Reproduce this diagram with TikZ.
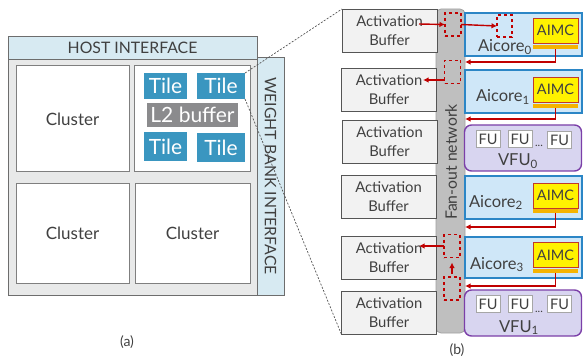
\documentclass[tikz,border=0pt]{standalone}
\usepackage{fontspec}
\setmainfont{Lato}
\usepackage{xcolor}
\usetikzlibrary{positioning,arrows.meta}

\definecolor{txtgray}{HTML}{404040}
\definecolor{chipfill}{HTML}{E8E9E9}
\definecolor{chipline}{HTML}{6D6D6D}
\definecolor{ifacefill}{HTML}{D7EAF2}
\definecolor{clusterline}{HTML}{7F7F7F}
\definecolor{tileblue}{HTML}{3A96C0}
\definecolor{l2gray}{HTML}{8B8B8D}
\definecolor{buffill}{HTML}{F2F2F2}
\definecolor{bufline}{HTML}{555555}
\definecolor{fanfill}{HTML}{BFBFBF}
\definecolor{fanline}{HTML}{A0A0A0}
\definecolor{corefill}{HTML}{CFE7F8}
\definecolor{coreline}{HTML}{2B86C6}
\definecolor{aimcline}{HTML}{C0392B}
\definecolor{barorange}{HTML}{F5B300}
\definecolor{vfufill}{HTML}{D8D5F0}
\definecolor{vfuline}{HTML}{7B3FA8}
\definecolor{fuline}{HTML}{A6A6A6}
\definecolor{flowred}{HTML}{C00000}

\newcommand\fsz[2]{\fontsize{#1}{#2}\selectfont}

\begin{document}
\begin{tikzpicture}[x=1pt, y=-1pt,
  every node/.style={inner sep=0pt, outer sep=0pt, text=txtgray},
  sz/.style 2 args={minimum width=#1pt, minimum height=#2pt},
  chipN/.style={draw=chipline, fill=chipfill, line width=0.8pt},
  ifaceN/.style={draw=chipline, fill=ifacefill, line width=0.8pt, font=\fsz{15.8}{18}},
  clusterN/.style={draw=clusterline, fill=white, line width=1pt, font=\fsz{17}{20}},
  tileN/.style={fill=tileblue, text=white, font=\fsz{21}{23}},
  l2N/.style={fill=l2gray, text=white, font=\fsz{21}{23}},
  bufN/.style={draw=bufline, fill=buffill, line width=0.8pt, sz={95}{43},
               align=center, font=\fsz{14.8}{19}},
  fanN/.style={draw=fanline, fill=fanfill, line width=0.8pt, rounded corners=5pt},
  coreN/.style={draw=coreline, fill=corefill, line width=1.6pt, sz={117}{43}},
  coreT/.style={anchor=base west, font=\fsz{16.5}{18}},
  aimcN/.style={draw=aimcline, fill=yellow, line width=0.8pt, sz={45}{25},
                font=\fsz{14.5}{16}},
  barN/.style={fill=barorange, sz={45}{4}},
  vfuN/.style={draw=vfuline, fill=vfufill, line width=1.4pt, rounded corners=7pt,
               sz={117}{46}},
  fuN/.style={draw=fuline, fill=white, line width=1pt, sz={24}{17}, font=\fsz{14.5}{16}},
  dashN/.style={draw=flowred, dashed, line width=1.2pt, sz={16}{23}},
  flow/.style={draw=flowred, line width=1.4pt, -{Latex[length=5.5pt,width=5.5pt]}},
  zoomline/.style={draw=bufline, line width=0.7pt, dash pattern=on 2pt off 1.5pt}
]
\useasboundingbox (0,0) rectangle (583,358);

% (a) chip
\node[chipN, sz={249}{259}] (chip) at (132.5,165.5) {};
\node[ifaceN, sz={249}{23}] (host) at (132.5,47.5) {HOST INTERFACE};
\node[ifaceN, sz={238}{27}, rotate=-90] (wbi) at (270.5,176) {WEIGHT BANK INTERFACE};
% Clusters
\node[clusterN, sz={113}{106}] (c1) at (72.5,119) {Cluster};
\node[clusterN, sz={116}{106}] (c2) at (192,119) {};
\node[clusterN, sz={113}{99}] (c3) at (72.5,233.5) {Cluster};
\node[clusterN, sz={115}{99}] (c4) at (192.5,233.5) {Cluster};
% Tiles inside one cluster
\node[tileN, sz={43}{26}] (t1) at (165.5,86) {Tile};
\node[tileN, sz={48}{26}] (t2) at (221,86) {Tile};
\node[l2N, sz={91}{24}] (l2) at (192.5,115) {L2 buffer};
\node[tileN, sz={43}{29}] (t3) at (165.5,146.5) {Tile};
\node[tileN, sz={48}{29}] (t4) at (221,147.5) {Tile};
\node[font=\fsz{14}{16}] (capa) at (127,342) {(a)};

% (b) tile
\node[fanN, sz={324}{29}, rotate=90] (fan) at (450.5,171) {};
\node[rotate=90, font=\fsz{15.8}{17}] (fanT) at (451,162) {Fan-out network};
% Activation buffers
\node[bufN] (b0) at (389.5,30.5) {Activation\\Buffer};
\node[bufN] (b1) at (389,89.5) {Activation\\Buffer};
\node[bufN] (b2) at (389.5,142) {Activation\\Buffer};
\node[bufN] (b3) at (388.5,196.5) {Activation\\Buffer};
\node[bufN] (b4) at (389,258) {Activation\\Buffer};
\node[bufN] (b5) at (389,313) {Activation\\Buffer};
% Aicores
\node[coreN] (ac0) at (523.5,34.5) {};
\node[coreN] (ac1) at (523.5,91.5) {};
\node[coreN] (ac2) at (523.5,197.5) {};
\node[coreN, sz={117}{41}] (ac3) at (523.5,257.5) {};
\node[coreT] (ac0T) at (478,52) {Aicore\textsubscript{0}};
\node[coreT] (ac1T) at (476,102) {Aicore\textsubscript{1}};
\node[coreT] (ac2T) at (469,207) {Aicore\textsubscript{2}};
\node[coreT] (ac3T) at (470,269) {Aicore\textsubscript{3}};
\node[aimcN] (a0) at (555.5,30.5) {AIMC};
\node[aimcN] (a1) at (555.5,89.5) {AIMC};
\node[aimcN] (a2) at (555.5,195.5) {AIMC};
\node[aimcN] (a3) at (555.5,255) {AIMC};
\node[barN] (bar0) at (555.5,47.5) {};
\node[barN] (bar1) at (555.5,106) {};
\node[barN] (bar2) at (555.5,211) {};
\node[barN] (bar3) at (555.5,271) {};
% Vector units
\node[vfuN] (vfu0) at (523,148) {};
\node[vfuN] (vfu1) at (523,313) {};
\node[fuN] (f01) at (488,139.5) {FU};
\node[fuN] (f02) at (520,139.5) {FU};
\node[fuN] (f03) at (559.5,140) {FU};
\node[font=\fsz{11}{12}, anchor=base] (dots0) at (539,147) {...};
\node[coreT] (vfu0T) at (498,166) {VFU\textsubscript{0}};
\node[fuN] (f11) at (488,304) {FU};
\node[fuN] (f12) at (520,304) {FU};
\node[fuN] (f13) at (559.5,304) {FU};
\node[font=\fsz{11}{12}, anchor=base] (dots1) at (539,312) {...};
\node[coreT] (vfu1T) at (499,332) {VFU\textsubscript{1}};
% Dashed staging slots
\node[dashN] (d0) at (453,24.5) {};
\node[dashN, sz={15}{22}] (dc0) at (504.5,26) {};
\node[dashN] (d1) at (452.5,72) {};
\node[dashN] (d2) at (452,246) {};
\node[dashN] (d3) at (452,288.5) {};
\node[font=\fsz{14}{16}] (capb) at (457,350) {(b)};

% Data movement
\coordinate (s0) at (419,24);
\coordinate (o1) at (423,80);
\coordinate (o4) at (419,246);
\coordinate (r0) at (465,62);
\coordinate (r1) at (465,119);
\coordinate (r2) at (465,227);
\coordinate (r3) at (465,286);
\draw[flow] (s0) -- (d0.west);
\draw[flow] (d0.east) -- (dc0.west);
\draw[flow] (bar0.south) |- (r0);
\draw[flow] (d1.west |- o1) -- (o1);
\draw[flow] (bar1.south) |- (r1);
\draw[flow] (bar2.south) |- (r2);
\draw[flow] (d2.west) -- (o4);
\draw[flow, shorten <=3pt, shorten >=5pt] (d3.north) -- (d2.south);
\draw[flow] (bar3.south) |- (r3);

% Zoom lines
\draw[zoomline] (t2.north east) -- (b0.north west);
\draw[zoomline] (t2.south east) -- (b5.south west);
\end{tikzpicture}
\end{document}
